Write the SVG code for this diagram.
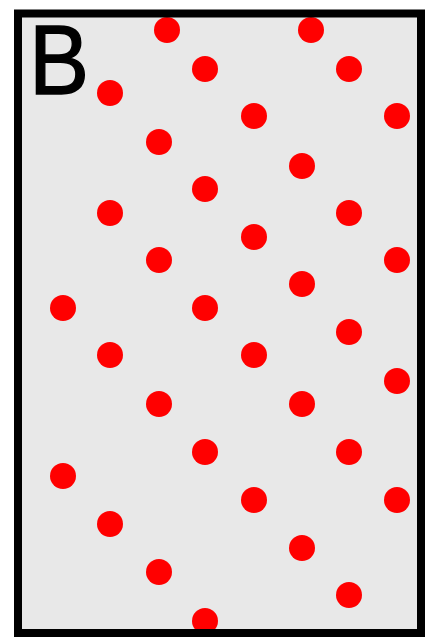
<svg xmlns="http://www.w3.org/2000/svg" width="429" height="639" viewBox="0 0 429 639">
<style>
.d{fill:#ff0000}
.lbl{font-family:"Liberation Sans",Arial,sans-serif;font-size:98px;fill:#000}
</style>
<rect x="0" y="0" width="429" height="639" fill="#ffffff"/>
<rect x="18" y="13.5" width="403" height="619.5" fill="#e8e8e8"/>
<g id="dots">
<circle class="d" cx="167" cy="30" r="13"/>
<circle class="d" cx="205" cy="69" r="13"/>
<circle class="d" cx="110" cy="93" r="13"/>
<circle class="d" cx="159" cy="142" r="13"/>
<circle class="d" cx="205" cy="189" r="13"/>
<circle class="d" cx="110" cy="213" r="13"/>
<circle class="d" cx="159" cy="260" r="13"/>
<circle class="d" cx="63" cy="308" r="13"/>
<circle class="d" cx="205" cy="308" r="13"/>
<circle class="d" cx="311" cy="30" r="13"/>
<circle class="d" cx="349" cy="69" r="13"/>
<circle class="d" cx="254" cy="116" r="13"/>
<circle class="d" cx="397" cy="116" r="13"/>
<circle class="d" cx="302" cy="166" r="13"/>
<circle class="d" cx="349" cy="213" r="13"/>
<circle class="d" cx="254" cy="237" r="13"/>
<circle class="d" cx="397" cy="260" r="13"/>
<circle class="d" cx="302" cy="284" r="13"/>
<circle class="d" cx="349" cy="332" r="13"/>
<circle class="d" cx="110" cy="355" r="13"/>
<circle class="d" cx="159" cy="404" r="13"/>
<circle class="d" cx="205" cy="452" r="13"/>
<circle class="d" cx="63" cy="476" r="13"/>
<circle class="d" cx="110" cy="524" r="13"/>
<circle class="d" cx="159" cy="572" r="13"/>
<circle class="d" cx="205" cy="621" r="13"/>
<circle class="d" cx="254" cy="355" r="13"/>
<circle class="d" cx="397" cy="381" r="13"/>
<circle class="d" cx="302" cy="404" r="13"/>
<circle class="d" cx="349" cy="452" r="13"/>
<circle class="d" cx="254" cy="500" r="13"/>
<circle class="d" cx="397" cy="500" r="13"/>
<circle class="d" cx="302" cy="548" r="13"/>
<circle class="d" cx="349" cy="595" r="13"/>
</g>
<rect id="frame" x="18" y="13.5" width="403" height="619.5" fill="none" stroke="#000" stroke-width="8"/>
<text id="label" class="lbl" transform="translate(29,94) scale(0.92,1)" stroke="#000" stroke-width="1.5">B</text>
</svg>
